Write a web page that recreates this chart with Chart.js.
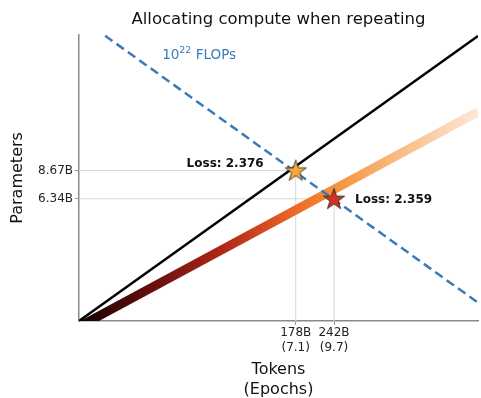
<!DOCTYPE html>
<html>
<head>
<meta charset="utf-8">
<script src="https://cdn.jsdelivr.net/npm/chart.js@4"></script>
<style>
  html, body { margin: 0; padding: 0; background: #fff; }
</style>
</head>
<body>
<canvas id="chart" width="481" height="398"></canvas>
<script>
// axis ranges (log scales)
const tokenRange = [31.3e9, 768e9];
const paramRange = [1.64e9, 38.9e9];

// tick values and labels
const tokenTicks = [178e9, 242e9];
const tokenTickLabels = [["178B", "(7.1)"], ["242B", "(9.7)"]];
const paramTicks = [6.34e9, 8.67e9];
const paramTickLabels = ["6.34B", "8.67B"];

// lines
const chinchillaTokens = [31.3e9, 768e9];
const chinchillaParams = [1.64e9, 38.4e9];
const repeatTokens = [31.3e9, 768e9];
const repeatParams = [1.54e9, 16.6e9];
const isoFlopTokens = [38.6e9, 768e9];
const isoFlopParams = [38.5e9, 2.01e9];

// optima
const optimaTokens = [178e9, 242e9];
const optimaParams = [8.67e9, 6.34e9];
const optimaLoss = ["2.376", "2.359"];
const optimaColors = ["#f1a93a", "#d32f24"];

const FONT = "'DejaVu Sans', sans-serif";

function zip(xs, ys) {
  return xs.map((x, i) => ({ x: x, y: ys[i] }));
}

function makeStar(fill) {
  const c = document.createElement("canvas");
  c.width = 28;
  c.height = 28;
  const g = c.getContext("2d");
  g.beginPath();
  for (let i = 0; i < 10; i++) {
    const r = i % 2 === 0 ? 11.2 : 4.4;
    const a = -Math.PI / 2 + (i * Math.PI) / 5;
    const px = 14 + r * Math.cos(a);
    const py = 14.8 + r * Math.sin(a);
    if (i === 0) g.moveTo(px, py);
    else g.lineTo(px, py);
  }
  g.closePath();
  g.fillStyle = fill;
  g.fill();
  g.lineWidth = 0.8;
  g.strokeStyle = "#222";
  g.stroke();
  return c;
}

// grey guide lines from the axes up to each optimum
const guides = optimaTokens.map((t, i) => ({
  data: [
    { x: t, y: paramRange[0] },
    { x: t, y: optimaParams[i] },
    { x: tokenRange[0], y: optimaParams[i] },
  ],
  borderColor: "#d6d6d6",
  borderWidth: 1,
  pointRadius: 0,
  order: 6,
}));

const stars = optimaTokens.map((t, i) => ({
  data: [{ x: t, y: optimaParams[i] }],
  showLine: false,
  pointStyle: makeStar(optimaColors[i]),
  pointRadius: 10,
  order: 1,
}));

function repeatGradient(context) {
  const area = context.chart.chartArea;
  if (!area) return "#e8582a";
  const g = context.chart.ctx.createLinearGradient(area.left, 0, area.right, 0);
  g.addColorStop(0.0, "#120101");
  g.addColorStop(0.19, "#6a0f0e");
  g.addColorStop(0.38, "#b72b1a");
  g.addColorStop(0.54, "#ec6827");
  g.addColorStop(0.64, "#f5913b");
  g.addColorStop(0.8, "#f8bc82");
  g.addColorStop(1.0, "#fde8d9");
  return g;
}

// annotation texts
const annotations = {
  id: "annotations",
  afterDatasetsDraw(chart) {
    const { ctx, scales } = chart;
    const x = scales.x, y = scales.y;
    ctx.save();
    ctx.fillStyle = "#111";
    ctx.font = "bold 12px " + FONT;
    ctx.textBaseline = "middle";
    ctx.textAlign = "right";
    ctx.fillText("Loss: " + optimaLoss[0],
      x.getPixelForValue(optimaTokens[0]) - 32, y.getPixelForValue(optimaParams[0]) - 7);
    ctx.textAlign = "left";
    ctx.fillText("Loss: " + optimaLoss[1],
      x.getPixelForValue(optimaTokens[1]) + 21, y.getPixelForValue(optimaParams[1]) + 1);

    // 10^22 FLOPs label near the start of the iso-FLOP line
    let lx = x.getPixelForValue(isoFlopTokens[0]) + 57;
    const ly = y.getPixelForValue(isoFlopParams[0]) + 20;
    ctx.fillStyle = "#3b7bb8";
    ctx.font = "13.5px " + FONT;
    ctx.fillText("10", lx, ly);
    lx += ctx.measureText("10").width;
    ctx.font = "9.5px " + FONT;
    ctx.fillText("22", lx, ly - 5);
    lx += ctx.measureText("22").width;
    ctx.font = "13.5px " + FONT;
    ctx.fillText(" FLOPs", lx, ly);
    ctx.restore();
  },
};

new Chart(document.getElementById("chart"), {
  type: "line",
  data: {
    datasets: [
      ...stars,
      {
        data: zip(isoFlopTokens, isoFlopParams),
        borderColor: "#3a7ab8",
        borderWidth: 2.5,
        borderDash: [9, 5],
        pointRadius: 0,
        order: 2,
      },
      {
        data: zip(chinchillaTokens, chinchillaParams),
        borderColor: "#000",
        borderWidth: 2.5,
        pointRadius: 0,
        order: 3,
      },
      {
        data: zip(repeatTokens, repeatParams),
        borderColor: repeatGradient,
        borderWidth: 9,
        borderCapStyle: "butt",
        pointRadius: 0,
        clip: 0,
        order: 4,
      },
      ...guides,
    ],
  },
  options: {
    responsive: false,
    animation: false,
    layout: { autoPadding: false, padding: { left: 0, right: 3, top: 0, bottom: 0 } },
    plugins: {
      legend: { display: false },
      tooltip: { enabled: false },
      title: {
        display: true,
        text: "Allocating compute when repeating",
        fullSize: false,
        color: "#111",
        font: { family: FONT, size: 16.5, weight: "normal", lineHeight: 1.2 },
        padding: { top: 10, bottom: 5 },
      },
    },
    scales: {
      x: {
        type: "logarithmic",
        min: tokenRange[0],
        max: tokenRange[1],
        afterBuildTicks: (s) => { s.ticks = tokenTicks.map((v) => ({ value: v })); },
        afterFit: (s) => { s.height = 77; },
        ticks: {
          autoSkip: false,
          maxRotation: 0,
          padding: 1,
          color: "#222",
          font: { family: FONT, size: 12, lineHeight: 1.2 },
          callback: (v, i) => tokenTickLabels[i],
        },
        grid: { display: true, drawOnChartArea: false, drawTicks: true, tickLength: 4, color: "#999" },
        border: { display: true, color: "#8a8a8a", width: 1.5 },
        title: {
          display: true,
          text: ["Tokens", "(Epochs)"],
          color: "#111",
          font: { family: FONT, size: 16, lineHeight: 1.2 },
          padding: { top: 0, bottom: -1 },
        },
      },
      y: {
        type: "logarithmic",
        min: paramRange[0],
        max: paramRange[1],
        afterBuildTicks: (s) => { s.ticks = paramTicks.map((v) => ({ value: v })); },
        afterFit: (s) => { s.width = 79; },
        ticks: {
          autoSkip: false,
          padding: 2,
          color: "#222",
          font: { family: FONT, size: 12 },
          callback: (v, i) => paramTickLabels[i],
        },
        grid: { display: true, drawOnChartArea: false, drawTicks: true, tickLength: 4, color: "#999" },
        border: { display: true, color: "#8a8a8a", width: 1.5 },
        title: {
          display: true,
          text: "Parameters",
          color: "#111",
          font: { family: FONT, size: 16, lineHeight: 1.2 },
          padding: { top: 8, bottom: 0 },
        },
      },
    },
  },
  plugins: [annotations],
});
</script>
</body>
</html>
